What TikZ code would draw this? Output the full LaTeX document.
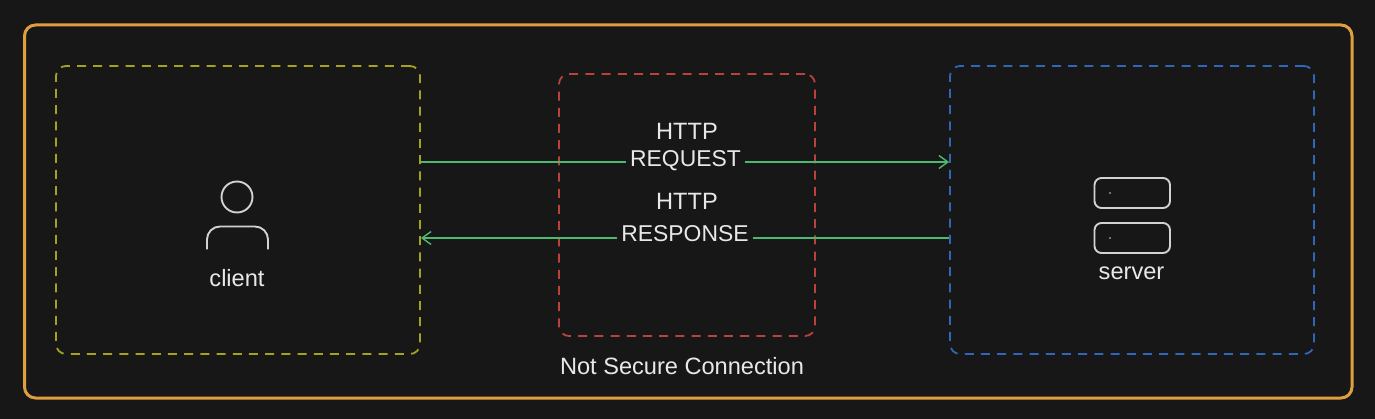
\documentclass[tikz,border=0pt]{standalone}
\usepackage{fontspec}
\setmainfont{Liberation Sans}
\usetikzlibrary{arrows.meta}
\definecolor{bgc}{HTML}{171717}
\definecolor{outerc}{HTML}{E09F3E}
\definecolor{clientc}{HTML}{A3A320}
\definecolor{midc}{HTML}{B8433D}
\definecolor{serverc}{HTML}{2F66B8}
\definecolor{arrowc}{HTML}{4CB870}
\definecolor{inkc}{HTML}{E8E8E8}
\definecolor{iconc}{HTML}{D2D2D2}
\tikzset{
  x=1pt,y=-1pt,
  dashbox/.style={draw,line width=1.8pt,rounded corners=10pt,dash pattern=on 9pt off 7.2pt,inner sep=0pt},
  label/.style={text=inkc,font=\fontsize{23.6}{26}\selectfont,inner ysep=0pt,inner xsep=0pt,anchor=base},
  wirelabel/.style={label,font=\fontsize{22.9}{26}\selectfont,inner xsep=4pt},
  wire/.style={draw=arrowc,line width=1.5pt},
  tip/.style={-{Straight Barb[length=9pt,width=13pt,line width=1.4pt]}},
  icon/.style={draw=iconc,line width=1.9pt},
}
\begin{document}
\begin{tikzpicture}
\useasboundingbox (0,0) rectangle (1375,419);
\fill[bgc] (0,0) rectangle (1375,419);
\node[draw=outerc,line width=3pt,rounded corners=11pt,inner sep=0pt,minimum width=1327.5pt,minimum height=373pt] (outer) at (688.25,211.5) {};
\node[dashbox,clientc,minimum width=364pt,minimum height=288pt] (clientbox) at (238,210) {};
\node[dashbox,midc,minimum width=256pt,minimum height=262pt] (midbox) at (687,205) {};
\node[dashbox,serverc,minimum width=364pt,minimum height=288pt] (serverbox) at (1132,210) {};
\node[label] (h1) at (687,139.5) {HTTP};
\node[wirelabel] (req) at (685.5,167) {REQUEST};
\node[label] (h2) at (687,210) {HTTP};
\node[wirelabel] (resp) at (685,242) {RESPONSE};
\node[label] (clientl) at (237,286.5) {client};
\node[label] (serverl) at (1131.5,279.5) {server};
\node[label] (nsc) at (682,374) {Not Secure Connection};
\coordinate (rowreq) at (0,162);
\coordinate (rowresp) at (0,238);
\draw[wire] (clientbox.east |- rowreq) -- (req.west |- rowreq);
\draw[wire,tip] (req.east |- rowreq) -- (serverbox.west |- rowreq);
\draw[wire,tip] (resp.west |- rowresp) -- (clientbox.east |- rowresp);
\draw[wire] (resp.east |- rowresp) -- (serverbox.west |- rowresp);
\draw[icon] (237,197) circle (15.5);
\draw[icon,rounded corners=13pt] (207,249.5) -- (207,226.5) -- (268,226.5) -- (268,249.5);
\draw[icon,rounded corners=7pt] (1094.5,178) rectangle (1170,208);
\draw[icon,rounded corners=7pt] (1094.5,223) rectangle (1170,253);
\fill[iconc] (1110,193) circle (0.8);
\fill[iconc] (1110,238) circle (0.8);
\end{tikzpicture}
\end{document}
